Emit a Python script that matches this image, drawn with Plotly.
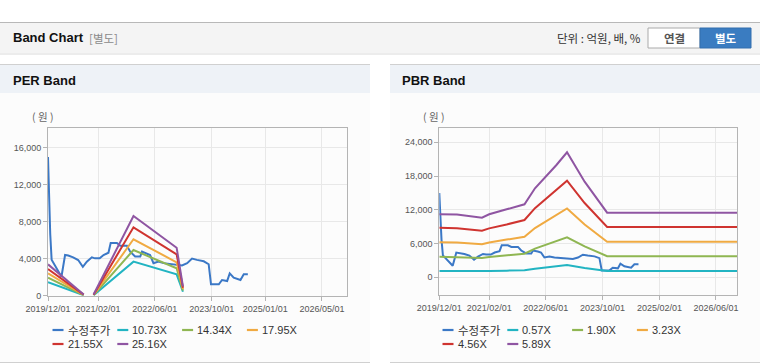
import plotly.graph_objects as go

W, H = 760, 364

# ---------------- data ----------------
price_dates = ["2019-12-01", "2019-12-06", "2019-12-12", "2019-12-20", "2020-01-01", "2020-03-25",
               "2020-04-25", "2020-05-22", "2020-07-03", "2020-08-15", "2020-09-24", "2020-10-28",
               "2020-12-10", "2021-01-06", "2021-02-15", "2021-03-20", "2021-05-01", "2021-05-20",
               "2021-07-12", "2021-08-10", "2021-10-06", "2021-11-03", "2021-12-15", "2022-01-28",
               "2022-02-12", "2022-03-25", "2022-04-22", "2022-05-21", "2022-07-03", "2022-08-15",
               "2022-12-07", "2023-01-20", "2023-03-05", "2023-04-16", "2023-05-28", "2023-07-25",
               "2023-09-05", "2023-09-25", "2023-12-01", "2023-12-28", "2024-02-10", "2024-03-03",
               "2024-04-06", "2024-06-03", "2024-07-01", "2024-08-05"]
price_values = [15000, 12300, 9600, 6700, 3900, 2050,
                4400, 4350, 4150, 3860, 3130, 3680,
                4150, 4040, 4040, 4400, 4650, 5700,
                5700, 5400, 5400, 4760, 4240, 4240,
                4760, 4580, 4400, 3520, 3700, 3520,
                3340, 3270, 3520, 4010, 3870, 3720,
                3400, 1230, 1230, 1700, 1590, 2420,
                1950, 1700, 2310, 2310]

per_dates = ["2019-12-01", "2020-10-01", "2020-11-15", "2020-12-25", "2021-12-01", "2022-12-05", "2023-01-28"]
per_names = ["10.73X", "14.34X", "17.95X", "21.55X", "25.16X"]
per_10_73 = [1450, 50, None, 50, 3680, 2310, 430]
per_14_34 = [1950, 70, None, 70, 4940, 2960, 570]
per_17_95 = [2420, 90, None, 90, 6100, 3610, 720]
per_21_55 = [2890, 110, None, 110, 7390, 4470, 860]
per_25_16 = [3390, 130, None, 130, 8615, 5190, 1000]

pbr_dates = ["2019-12-01", "2020-05-01", "2020-12-01", "2021-02-01", "2021-07-01", "2021-12-01",
             "2022-03-01", "2022-09-01", "2022-12-01", "2023-05-01", "2023-11-10", "2026-12-01"]
pbr_names = ["0.57X", "1.90X", "3.23X", "4.56X", "5.89X"]
pbr_0_57 = [1110, 1100, 1050, 1100, 1180, 1270, 1540, 1940, 2180, 1660, 1120, 1120]
pbr_1_90 = [3660, 3620, 3440, 3620, 3900, 4200, 5100, 6450, 7120, 5500, 3750, 3750]
pbr_3_23 = [6250, 6200, 5880, 6200, 6700, 7200, 8750, 11000, 12250, 9400, 6330, 6330]
pbr_4_56 = [8800, 8720, 8290, 8700, 9400, 10190, 12300, 15500, 17180, 13200, 8940, 8940]
pbr_5_89 = [11200, 11150, 10600, 11200, 12090, 12980, 15820, 19970, 22220, 17000, 11490, 11490]

price_name = "수정주가"
per_xticks = ["2019-12-01", "2021-02-01", "2022-06-01", "2023-10-01", "2025-01-01", "2026-05-01"]
pbr_xticks = ["2019-12-01", "2021-02-01", "2022-06-01", "2023-10-01", "2025-02-01", "2026-06-01"]
per_yticks = [0, 4000, 8000, 12000, 16000]
pbr_yticks = [0, 6000, 12000, 18000, 24000]

# ---------------- style ----------------
C_PRICE = "#3b78c6"
BAND_COLORS = ["#22b4c2", "#8fb652", "#f0aa42", "#cf3430", "#8f55a2"]
FONT = "Liberation Sans, Arial, Noto Sans CJK KR, sans-serif"
KFONT = "Noto Sans CJK KR, Liberation Sans, sans-serif"


def px(x):
    return x / W


def py(y):
    return 1 - y / H


fig = go.Figure()

# PER panel traces
fig.add_trace(go.Scatter(x=price_dates, y=price_values, mode="lines", name=price_name,
                         line=dict(color=C_PRICE, width=2), xaxis="x", yaxis="y", showlegend=False))
for name, vals, col in zip(per_names, [per_10_73, per_14_34, per_17_95, per_21_55, per_25_16], BAND_COLORS):
    fig.add_trace(go.Scatter(x=per_dates, y=vals, mode="lines", name=name, connectgaps=False,
                             line=dict(color=col, width=2), xaxis="x", yaxis="y", showlegend=False))

# PBR panel traces
fig.add_trace(go.Scatter(x=price_dates, y=price_values, mode="lines", name=price_name,
                         line=dict(color=C_PRICE, width=2), xaxis="x2", yaxis="y2", showlegend=False))
for name, vals, col in zip(pbr_names, [pbr_0_57, pbr_1_90, pbr_3_23, pbr_4_56, pbr_5_89], BAND_COLORS):
    fig.add_trace(go.Scatter(x=pbr_dates, y=vals, mode="lines", name=name,
                             line=dict(color=col, width=2), xaxis="x2", yaxis="y2", showlegend=False))

axis_common = dict(showline=True, linecolor="#b4b4b4", linewidth=1, mirror=True,
                   showgrid=True, gridcolor="#e8e8e8", gridwidth=1, zeroline=False,
                   ticks="outside", ticklen=4, tickcolor="#b4b4b4", automargin=False,
                   tickfont=dict(family=FONT, size=9, color="#555555"))

fig.update_layout(
    template="none",
    width=W, height=H, margin=dict(l=0, r=0, t=0, b=0, pad=0, autoexpand=False),
    paper_bgcolor="#ffffff", plot_bgcolor="#ffffff", showlegend=False,
    xaxis=dict(axis_common, type="date", domain=[px(48), px(347)],
               range=["2019-12-01", "2026-12-01"], tickvals=per_xticks,
               tickformat="%Y/%m/%d", anchor="y"),
    yaxis=dict(axis_common, domain=[py(295.7), py(128)], range=[0, 18130],
               tickvals=per_yticks, tickformat=",d", anchor="x"),
    xaxis2=dict(axis_common, type="date", domain=[px(439.3), px(737.3)],
                range=["2019-12-01", "2026-12-01"], tickvals=pbr_xticks,
                tickformat="%Y/%m/%d", anchor="y2"),
    yaxis2=dict(axis_common, domain=[py(295.3), py(128.3)], range=[-3200, 26490],
                tickvals=pbr_yticks, tickformat=",d", anchor="x2"),
)

shapes = []


def rect(x0, y0, x1, y1, fill, line=None, lw=0):
    shapes.append(dict(type="rect", xref="paper", yref="paper", x0=px(x0), x1=px(x1),
                       y0=py(y1), y1=py(y0), fillcolor=fill, layer="below",
                       line=dict(color=line or fill, width=lw)))


def hline(x0, x1, y, color, w=1):
    shapes.append(dict(type="line", xref="paper", yref="paper", x0=px(x0), x1=px(x1),
                       y0=py(y), y1=py(y), line=dict(color=color, width=w), layer="below"))


# top header bar
rect(0, 22, 760, 53, "#f4f4f4")
rect(0, 53, 760, 55, "#ececec")
hline(0, 760, 22.5, "#b8b8b8")
# panels
for x0, x1 in [(0, 370), (390, 760)]:
    rect(x0, 64, x1, 93, "#eef2f7")
    rect(x0, 93, x1, 362, "#fcfcfc")
    hline(x0, x1, 64.5, "#d0d0d0")
    hline(x0, x1, 362.5, "#d0d0d0")
# buttons
shapes.append(dict(type="rect", xref="paper", yref="paper", x0=px(648), x1=px(700), y0=py(48), y1=py(28),
                   fillcolor="#ffffff", line=dict(color="#aaaaaa", width=1), layer="below"))
shapes.append(dict(type="rect", xref="paper", yref="paper", x0=px(700), x1=px(751), y0=py(48), y1=py(28),
                   fillcolor="#3a7cc1", line=dict(color="#336fae", width=1), layer="below"))

annotations = []


def text(x, y, s, size=11, color="#333333", anchor="left", family=KFONT, bold=False):
    if bold:
        s = "<b>" + s + "</b>"
    annotations.append(dict(xref="paper", yref="paper", x=px(x), y=py(y), text=s, showarrow=False,
                            xanchor=anchor, yanchor="middle",
                            font=dict(family=family, size=size, color=color)))


text(11, 38, "Band Chart", size=13, color="#111111", family=FONT, bold=True)
text(87, 38.5, "[별도]", size=11.5, color="#8a8a8a")
text(643, 38, "단위 : 억원, 배, %", size=11.5, color="#333333", anchor="right")
text(674, 38, "연결", size=11.5, color="#555555", anchor="center", bold=True)
text(725.5, 38, "별도", size=11.5, color="#ffffff", anchor="center", bold=True)
text(11, 80, "PER Band", size=13, color="#111111", family=FONT, bold=True)
text(400, 80, "PBR Band", size=13, color="#111111", family=FONT, bold=True)
text(42.5, 117, "( 원 )", size=10.5, color="#666666", anchor="center")
text(433, 117, "( 원 )", size=10.5, color="#666666", anchor="center")

# legends (compact, as in the reference)
legend_left = [(price_name, C_PRICE)] + list(zip(per_names, BAND_COLORS))
legend_right = [(price_name, C_PRICE)] + list(zip(pbr_names, BAND_COLORS))
for offset, items in [(0, legend_left), (390, legend_right)]:
    for i, (label, col) in enumerate(items):
        row, colpos = divmod(i, 4)
        lx = 52.5 + offset + colpos * 64.8
        ly = 330 + row * 14
        hline(lx, lx + 11, ly, col, 2.2)
        text(lx + 13, ly, label, size=11.5 if label == price_name else 11,
             color="#333333", family=KFONT if label == price_name else FONT)

fig.update_layout(shapes=shapes, annotations=annotations)
fig.write_html("out.html", config={"displayModeBar": False},
               post_script="document.body.style.margin='0';document.body.style.overflow='hidden';")
